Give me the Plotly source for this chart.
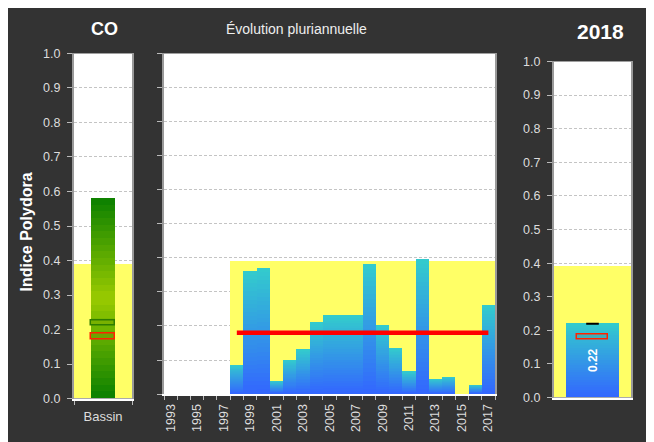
import plotly.graph_objects as go

# ---------------- data ----------------
years = list(range(1993, 2018))
indice_values = [None, None, None, None, None,
                 0.085, 0.36, 0.37, 0.038, 0.10, 0.13, 0.21, 0.23, 0.23, 0.23,
                 0.38, 0.20, 0.135, 0.065, 0.395, 0.044, 0.05, None, 0.026, 0.26]
band_years = list(range(1998, 2018))
threshold = 0.39
reference_value = 0.18
bassin_label = ["Bassin"]
bassin_value = [0.58]
bassin_current = [0.22]
current_year_label = "2018"
current_value = [0.22]
y_ticks = [round(0.1 * i, 1) for i in range(11)]
x_tick_years = list(range(1993, 2018, 2))

FONT = "Liberation Sans, Arial, sans-serif"
BG = "#333333"
TICKC = "#dddddd"
OFF = 8                      # page body margin
W, H = 654 - OFF, 442


def hexmix(c1, c2, t):
    a = [int(c1[i:i + 2], 16) for i in (1, 3, 5)]
    b = [int(c2[i:i + 2], 16) for i in (1, 3, 5)]
    return "rgb(%d,%d,%d)" % tuple(round(a[k] + (b[k] - a[k]) * t) for k in range(3))


def px_x(p):
    return (p - OFF) / W


def px_y(p):
    p2 = (p - 6.8) / 0.968
    return 1 - (p2 - OFF) / H


fig = go.Figure()
N = 30
BLUE_BOT, CYAN_TOP = "#3366FF", "#33CCCC"
GREEN_DARK, GREEN_LIGHT = "#0A7F00", "#9ACB00"

# ----- left panel (Bassin) -----
fig.add_trace(go.Bar(x=[0], y=[threshold], width=1, marker=dict(color="#FFFF66", line_width=0),
                     xaxis="x", yaxis="y", hoverinfo="skip", showlegend=False))
for i in range(N):
    frac = (N - i) / N
    tpos = (N - i - 0.5) / N
    d = abs(tpos - 0.5) * 2
    col = hexmix(GREEN_LIGHT, GREEN_DARK, d)
    fig.add_trace(go.Bar(x=[0], y=[v * frac for v in bassin_value], width=0.43,
                         marker=dict(color=col, line_width=0),
                         xaxis="x", yaxis="y", hoverinfo="skip", showlegend=False))
fig.add_trace(go.Bar(x=[0], y=[0.015], base=[bassin_current[0] - 0.0075], width=0.4,
                     marker=dict(color="rgba(120,120,0,0.12)", line=dict(color="#2E7D00", width=1.5)),
                     xaxis="x", yaxis="y", hoverinfo="skip", showlegend=False))
fig.add_trace(go.Bar(x=[0], y=[0.015], base=[reference_value - 0.0075], width=0.4,
                     marker=dict(color="rgba(150,100,0,0.15)", line=dict(color="#FF2200", width=1.5)),
                     xaxis="x", yaxis="y", hoverinfo="skip", showlegend=False))

# ----- middle panel (évolution) -----
fig.add_trace(go.Bar(x=band_years, y=[threshold] * len(band_years), width=1,
                     marker=dict(color="#FFFF66", line_width=0),
                     xaxis="x2", yaxis="y2", hoverinfo="skip", showlegend=False))
for i in range(N):
    frac = (N - i) / N
    tpos = (N - i - 0.5) / N
    col = hexmix(BLUE_BOT, CYAN_TOP, tpos)
    fig.add_trace(go.Bar(x=years, y=[None if v is None else v * frac for v in indice_values], width=1,
                         marker=dict(color=col, line_width=0),
                         xaxis="x2", yaxis="y2", hoverinfo="skip", showlegend=False))
fig.add_trace(go.Scatter(x=[band_years[0], band_years[-1]], y=[reference_value, reference_value],
                         mode="lines", line=dict(color="#FF0000", width=4.5),
                         xaxis="x2", yaxis="y2", hoverinfo="skip", showlegend=False))

# ----- right panel (2018) -----
fig.add_trace(go.Bar(x=[0], y=[threshold], width=1, marker=dict(color="#FFFF66", line_width=0),
                     xaxis="x3", yaxis="y3", hoverinfo="skip", showlegend=False))
for i in range(N):
    frac = (N - i) / N
    tpos = (N - i - 0.5) / N
    col = hexmix(BLUE_BOT, CYAN_TOP, tpos)
    fig.add_trace(go.Bar(x=[0], y=[v * frac for v in current_value], width=0.68,
                         marker=dict(color=col, line_width=0),
                         xaxis="x3", yaxis="y3", hoverinfo="skip", showlegend=False))
fig.add_trace(go.Bar(x=[0], y=[0.015], base=[reference_value - 0.0075], width=0.4,
                     marker=dict(color="rgba(150,100,0,0.12)", line=dict(color="#FF2200", width=1.5)),
                     xaxis="x3", yaxis="y3", hoverinfo="skip", showlegend=False))
fig.add_trace(go.Scatter(x=[0], y=current_value, mode="markers",
                         marker=dict(symbol="line-ew", size=9, line=dict(color="#000000", width=2)),
                         xaxis="x3", yaxis="y3", hoverinfo="skip", showlegend=False))

# ----- axes -----
yax_common = dict(range=[0, 1.0], tickvals=y_ticks, tickformat=".1f", showgrid=True,
                  gridcolor="#c4c4c4", griddash="3px,2px", gridwidth=1, zeroline=False,
                  showline=True, linecolor="#9a9a9a", linewidth=2, mirror=True,
                  ticks="outside", ticklen=5, tickcolor="#bbbbbb", tickwidth=1,
                  tickfont=dict(family=FONT, size=12.5, color=TICKC), fixedrange=True)

fig.update_layout(
    xaxis=dict(domain=[px_x(74), px_x(132)], anchor="y", range=[-0.5, 0.5],
               tickvals=[0], ticktext=bassin_label, ticks="", showgrid=False, zeroline=False,
               showline=True, linecolor="#ffffff", linewidth=2, ticklabelstandoff=5,
               minor=dict(ticks="outside", tick0=-0.5, dtick=1, ticklen=4, tickcolor="#bbbbbb", showgrid=False),
               tickfont=dict(family=FONT, size=13, color=TICKC)),
    yaxis=dict(domain=[px_y(398), px_y(53)], anchor="x", ticklabelstandoff=4, **yax_common),
    xaxis2=dict(domain=[px_x(164), px_x(495)], anchor="y2", range=[1992.5, 2017.5],
                tickvals=x_tick_years, ticktext=[str(y) for y in x_tick_years], tickangle=-90,
                ticks="", showgrid=False, zeroline=False, ticklabelstandoff=3,
                showline=True, linecolor="#ffffff", linewidth=2,
                minor=dict(ticks="outside", tick0=1992.5, dtick=1, ticklen=4, tickcolor="#bbbbbb", showgrid=False),
                tickfont=dict(family=FONT, size=12.5, color=TICKC)),
    yaxis2=dict(domain=[px_y(393.5), px_y(53)], anchor="x2", showticklabels=False, **yax_common),
    xaxis3=dict(domain=[px_x(554), px_x(631)], anchor="y3", range=[-0.5, 0.5],
                showticklabels=False, ticks="", showgrid=False, zeroline=False,
                showline=True, linecolor="#ffffff", linewidth=2),
    yaxis3=dict(domain=[px_y(397), px_y(61)], anchor="x3", ticklabelstandoff=4, **yax_common),
)

fig.update_layout(
    width=W, height=H, autosize=False,
    margin=dict(l=0, r=0, t=0, b=0, pad=0),
    paper_bgcolor=BG, plot_bgcolor="#ffffff",
    barmode="overlay", bargap=0,
    showlegend=False,
    font=dict(family=FONT, color=TICKC),
    annotations=[
        dict(text="<b>CO</b>", x=px_x(104.5), y=px_y(29), xref="paper", yref="paper",
             showarrow=False, xanchor="center", yanchor="middle",
             font=dict(family=FONT, size=18, color="#ffffff")),
        dict(text="Évolution pluriannuelle", x=px_x(296), y=px_y(29), xref="paper", yref="paper",
             showarrow=False, xanchor="center", yanchor="middle",
             font=dict(family=FONT, size=14, color="#eeeeee")),
        dict(text="<b>" + current_year_label + "</b>", x=px_x(600), y=px_y(31), xref="paper", yref="paper",
             showarrow=False, xanchor="center", yanchor="middle",
             font=dict(family=FONT, size=21, color="#ffffff")),
        dict(text="<b>Indice Polydora</b>", x=px_x(27), y=px_y(232), xref="paper", yref="paper",
             showarrow=False, xanchor="center", yanchor="middle", textangle=-90,
             font=dict(family=FONT, size=16, color="#ffffff")),
        dict(text="<b>%.2f</b>" % current_value[0], x=0, y=current_value[0] / 2, xref="x3", yref="y3",
             showarrow=False, xanchor="center", yanchor="middle", textangle=-90,
             font=dict(family=FONT, size=12, color="#ffffff")),
    ],
)

fig.write_html("out.html")
